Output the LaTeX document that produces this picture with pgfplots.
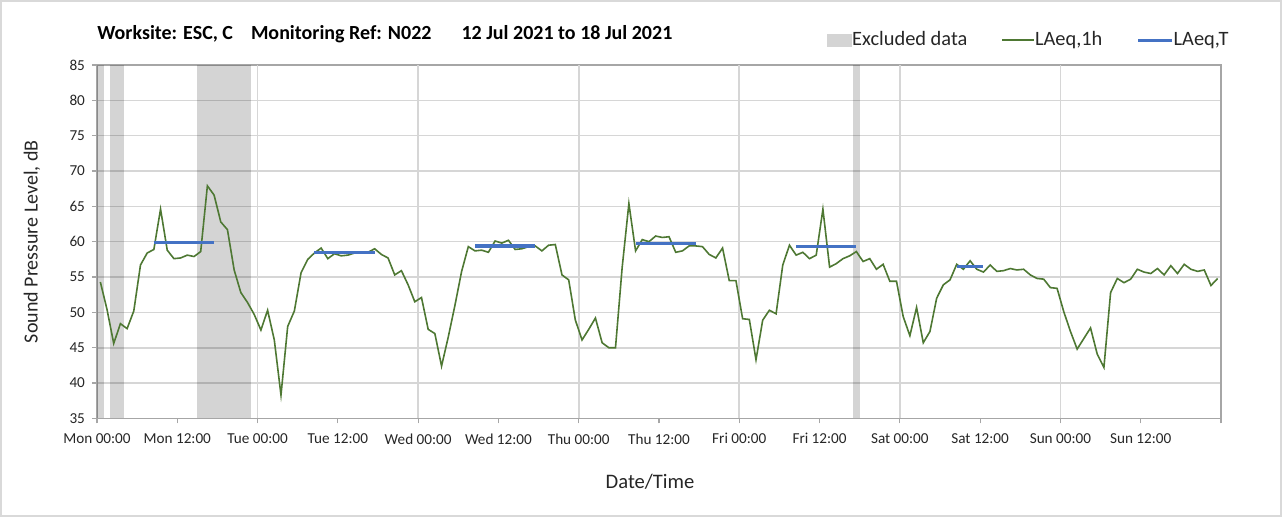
\documentclass[border=0pt]{standalone}
\usepackage{fontspec}
\setmainfont{Carlito}
\usepackage{pgfplots}
\pgfplotsset{compat=1.18}
\usepackage{pgfplotstable}
\definecolor{lgreen}{HTML}{4E7833}
\definecolor{lblue}{HTML}{4472C4}
\definecolor{gridc}{HTML}{D6D6D6}
\definecolor{axc}{HTML}{A6A6A6}
\definecolor{exg}{HTML}{D4D4D4}

\pgfplotstableread{
h v
0 54.3
1 50.4
2 45.6
3 48.4
4 47.7
5 50.2
6 56.7
7 58.4
8 58.9
9 64.6
10 58.8
11 57.6
12 57.7
13 58.1
14 57.9
15 58.6
16 67.9
17 66.6
18 62.8
19 61.7
20 56.0
21 52.8
22 51.4
23 49.7
24 47.5
25 50.3
26 46.1
27 38.3
28 48.0
29 50.2
30 55.6
31 57.5
32 58.4
33 59.1
34 57.6
35 58.3
36 58.0
37 58.1
38 58.4
39 58.4
40 58.5
41 59.0
42 58.2
43 57.7
44 55.3
45 55.9
46 53.9
47 51.5
48 52.1
49 47.6
50 47.0
51 42.4
52 46.5
53 51.0
54 55.8
55 59.3
56 58.7
57 58.8
58 58.5
59 60.1
60 59.8
61 60.2
62 58.9
63 59.0
64 59.3
65 59.4
66 58.7
67 59.5
68 59.6
69 55.3
70 54.6
71 48.9
72 46.1
73 47.6
74 49.2
75 45.7
76 45.0
77 45.0
78 56.4
79 65.4
80 58.7
81 60.3
82 60.0
83 60.8
84 60.6
85 60.7
86 58.5
87 58.7
88 59.4
89 59.4
90 59.3
91 58.2
92 57.7
93 59.1
94 54.5
95 54.5
96 49.1
97 49.0
98 43.3
99 48.9
100 50.3
101 49.8
102 56.7
103 59.5
104 58.1
105 58.5
106 57.6
107 58.1
108 64.6
109 56.4
110 56.9
111 57.6
112 58.0
113 58.6
114 57.2
115 57.6
116 56.1
117 56.8
118 54.4
119 54.4
120 49.4
121 46.7
122 50.7
123 45.7
124 47.3
125 52.0
126 53.9
127 54.6
128 56.8
129 56.1
130 57.3
131 56.1
132 55.7
133 56.7
134 55.8
135 55.9
136 56.2
137 56.0
138 56.1
139 55.3
140 54.8
141 54.7
142 53.5
143 53.4
144 50.1
145 47.3
146 44.8
147 46.3
148 47.8
149 44.1
150 42.2
151 52.8
152 54.8
153 54.2
154 54.7
155 56.1
156 55.7
157 55.5
158 56.2
159 55.3
160 56.6
161 55.5
162 56.8
163 56.1
164 55.8
165 56.0
166 53.8
167 54.8
}\laeq

\begin{document}
\begin{tikzpicture}
\useasboundingbox (-48.5pt,-49.35pt) rectangle (592.5pt,209.2pt);
\draw[gray!30, line width=0.8pt] (-48.1pt,-48.95pt) rectangle (592.1pt,208.8pt);
\begin{axis}[
  name=main,
  at={(0pt,0pt)}, anchor=south west,
  scale only axis, width=562pt, height=176.7pt,
  xmin=0, xmax=168, ymin=35, ymax=85,
  ytick={35,40,...,85},
  xtick={0,12,...,168},
  xticklabels={Mon 00:00,Mon 12:00,Tue 00:00,Tue 12:00,Wed 00:00,Wed 12:00,Thu 00:00,Thu 12:00,Fri 00:00,Fri 12:00,Sat 00:00,Sat 12:00,Sun 00:00,Sun 12:00,{}},
  ymajorgrids,
  major grid style={gridc, line width=0.8pt},
  extra x ticks={24,48,72,96,120,144},
  extra x tick labels={},
  extra x tick style={grid=major, major tick length=0pt},
  tick align=outside, xtick pos=bottom, ytick pos=left,
  major tick length=2.5pt,
  tick style={axc, line width=0.6pt},
  axis line style={axc, line width=0.8pt},
  /pgf/number format/assume math mode=true,
  tick label style={font=\fontsize{7.6}{9}\selectfont, text=black!85},
  xticklabel style={yshift=-1.5pt},
  xlabel={Date/Time},
  ylabel={Sound Pressure Level, dB},
  every axis x label/.style={at={(rel axis cs:0.492,0)}, yshift=-31.5pt, anchor=center, font=\fontsize{10.3}{12}\selectfont, text=black!85},
  every axis y label/.style={at={(rel axis cs:0,0.5)}, xshift=-32.5pt, rotate=90, anchor=center, font=\fontsize{10}{12}\selectfont, text=black!85},
  legend style={at={(rel axis cs:1.016,1.022)}, anchor=south east, draw=none, fill=none,
    font=\fontsize{10.2}{12}\selectfont, text=black!85,
    legend columns=3, /tikz/every even column/.append style={column sep=15pt},
    /tikz/every odd column/.append style={column sep=-2pt}},
]
\addlegendimage{legend image code/.code={\fill[exg, draw=none] (0pt,-3.3pt) rectangle (12.5pt,3.3pt);}}
\addlegendentry{Excluded data}
\addplot[draw=none, fill=black, fill opacity=0.17, forget plot] coordinates {(0,35) (0,85) (1,85) (1,35)} -- cycle;
\addplot[draw=none, fill=black, fill opacity=0.17, forget plot] coordinates {(2,35) (2,85) (4,85) (4,35)} -- cycle;
\addplot[draw=none, fill=black, fill opacity=0.17, forget plot] coordinates {(15,35) (15,85) (23,85) (23,35)} -- cycle;
\addplot[draw=none, fill=black, fill opacity=0.17, forget plot] coordinates {(113,35) (113,85) (114,85) (114,35)} -- cycle;
\addplot[lgreen, line width=0.8pt, mark=none,
  legend image code/.code={\draw[lgreen, line width=0.8pt] (0pt,0pt) -- (16pt,0pt);}]
  table[x expr=\thisrow{h}+0.5, y=v] {\laeq};
\addlegendentry{LAeq,1h}
\addplot[lblue, line width=1.6pt, mark=none,
  legend image code/.code={\draw[lblue, line width=1.6pt] (0pt,0pt) -- (17pt,0pt);}]
  coordinates {(8.5,59.9) (17.5,59.9)};
\addlegendentry{LAeq,T}
\addplot[lblue, line width=1.6pt, forget plot] coordinates {(32.5,58.5) (41.5,58.5)};
\addplot[lblue, line width=1.6pt, forget plot] coordinates {(56.5,59.4) (65.5,59.4)};
\addplot[lblue, line width=1.6pt, forget plot] coordinates {(80.5,59.8) (89.5,59.8)};
\addplot[lblue, line width=1.6pt, forget plot] coordinates {(104.5,59.3) (113.5,59.3)};
\addplot[lblue, line width=1.6pt, forget plot] coordinates {(128.5,56.5) (132.5,56.5)};
\end{axis}
\node[anchor=base west, font=\bfseries\fontsize{10}{12}\selectfont, inner sep=0pt] at ([yshift=12.5pt]main.north west)
  {Worksite: ESC, C\hspace{9pt}Monitoring Ref: N022\hspace{15pt}12 Jul 2021 to 18 Jul 2021};
\end{tikzpicture}
\end{document}
